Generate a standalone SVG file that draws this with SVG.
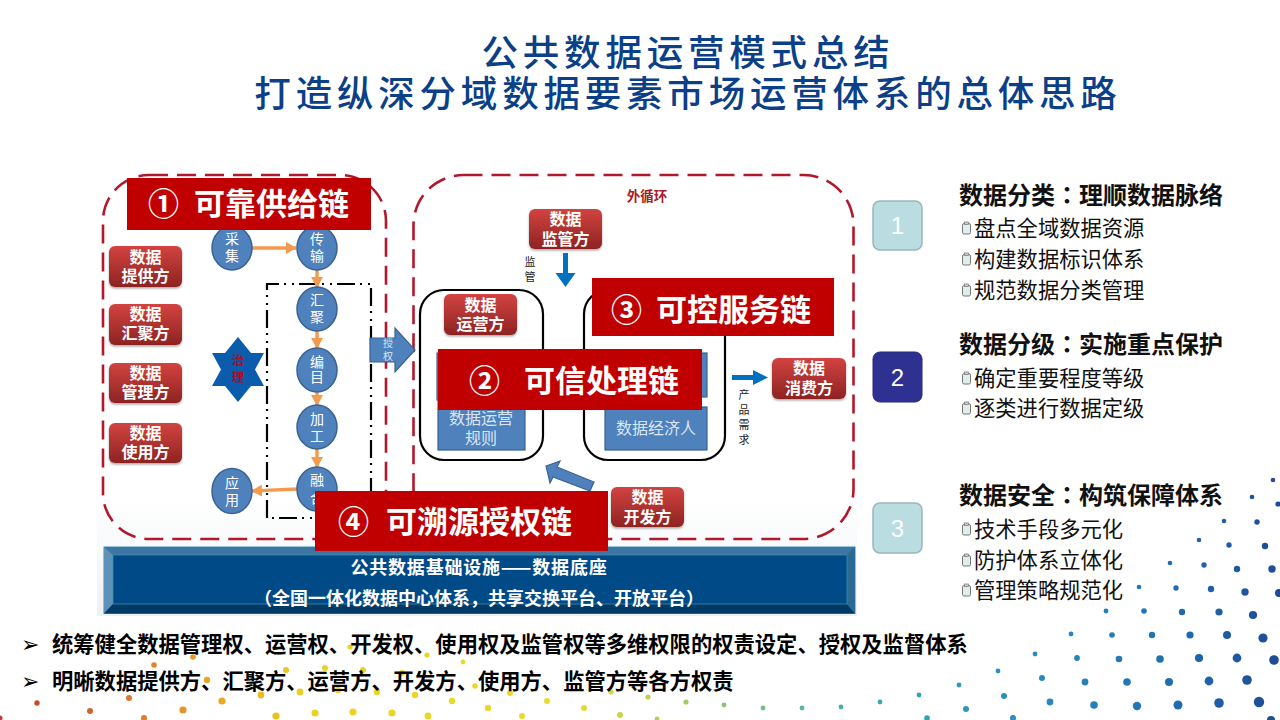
<svg xmlns="http://www.w3.org/2000/svg" xmlns:xlink="http://www.w3.org/1999/xlink" width="1280" height="720" viewBox="0 0 1280 720">
<style>
text{font-family:"Noto Sans CJK SC","Liberation Sans",sans-serif}
.title{font-size:36.5px;font-weight:500;fill:#0b3f88;letter-spacing:4.8px;text-anchor:middle}
.frame{fill:none;stroke:#b2182b;stroke-width:2.6;stroke-dasharray:19 9}
.party rect{fill:url(#redG);filter:url(#sh)}
.party text{font-size:16px;font-weight:700;fill:#fff;text-anchor:middle}
.step ellipse{fill:#4f81bd;stroke:#3a6390;stroke-width:1.5}
.step text{font-size:14px;fill:#fff;text-anchor:middle}
.box{fill:none;stroke:#000;stroke-width:2.2}
.blue{fill:#4f81bd;stroke:#3a6390;stroke-width:1.2}
.bt{font-size:16px;fill:#dbe6f3;text-anchor:middle}
.bar{fill:#c00000}
.bart{font-size:31px;font-weight:700;fill:#fff}
.small{font-size:11px;fill:#222;text-anchor:middle}
.orange{stroke:#f39a4f;stroke-width:3.4;fill:none;marker-end:url(#oa)}
.num{stroke:#9bb6ba;stroke-width:1.5}
.numt{font-family:"Liberation Sans",sans-serif;font-size:24px;fill:#fff;text-anchor:middle}
.h{font-size:24px;font-weight:700;fill:#111}
.c{font-family:"Noto Sans CJK TC",sans-serif}
.i{font-size:21.3px;fill:#111}
.b{font-size:21.3px;font-weight:700;fill:#000}
.ar{font-family:"DejaVu Sans",sans-serif;font-size:22px;fill:#000}
</style>
<defs>
<linearGradient id="redG" x1="0" y1="0" x2="0" y2="1"><stop offset="0" stop-color="#d24340"/><stop offset="1" stop-color="#8d2322"/></linearGradient>
<linearGradient id="pale" x1="0" y1="0" x2="0" y2="1"><stop offset="0" stop-color="#fff"/><stop offset="1" stop-color="#edf1f4"/></linearGradient>
<linearGradient id="dotG" gradientUnits="userSpaceOnUse" x1="0" y1="0" x2="1280" y2="0">
<stop offset="0" stop-color="#c23a30"/><stop offset=".08" stop-color="#d9662c"/><stop offset=".16" stop-color="#e6a227"/><stop offset=".24" stop-color="#ecd024"/><stop offset=".45" stop-color="#e8dc30"/><stop offset=".53" stop-color="#a9cb62"/><stop offset=".62" stop-color="#5fb89a"/><stop offset=".7" stop-color="#36a4b4"/><stop offset=".8" stop-color="#2a8cc0"/><stop offset=".9" stop-color="#1f74b4"/><stop offset="1" stop-color="#1f4a96"/></linearGradient>
<filter id="sh" x="-10%" y="-10%" width="120%" height="125%"><feDropShadow dx="0" dy="1.5" stdDeviation="1.2" flood-color="#000" flood-opacity=".35"/></filter>
<marker id="oa" markerUnits="userSpaceOnUse" markerWidth="11" markerHeight="12" refX="10" refY="6" orient="auto"><path d="M0 0L11 6L0 12z" fill="#f39a4f"/></marker>
<g id="clip"><rect x="0.5" y="1.5" width="8" height="10.5" rx="1.6" fill="#dfeee8" stroke="#777" stroke-width="1"/><rect x="2.5" y="0" width="4" height="2.6" fill="#ccc" stroke="#777" stroke-width=".7"/></g>
</defs>
<rect width="1280" height="720" fill="#fff"/>
<rect x="97" y="500" width="760" height="116" fill="url(#pale)"/>
<g id="dots" fill="url(#dotG)">
<circle cx="1273" cy="480" r="2.3"/><circle cx="1252" cy="497" r="2.3"/><circle cx="1278" cy="504" r="2.6"/><circle cx="1224" cy="521" r="2.3"/><circle cx="1257" cy="522" r="2.7"/><circle cx="1199" cy="540" r="2.3"/><circle cx="1229" cy="545" r="2.7"/><circle cx="1265" cy="546" r="3.2"/><circle cx="1170" cy="563" r="2.3"/><circle cx="1204" cy="565" r="2.7"/><circle cx="1237" cy="569" r="3.2"/><circle cx="1272" cy="569" r="3.7"/><circle cx="1139" cy="587" r="2.3"/><circle cx="1176" cy="588" r="2.7"/><circle cx="1211" cy="589" r="3.2"/><circle cx="1245" cy="592" r="3.7"/><circle cx="1279" cy="593" r="4"/><circle cx="1106" cy="611" r="2.4"/><circle cx="1144" cy="611" r="2.8"/><circle cx="1182" cy="612" r="3.2"/><circle cx="1219" cy="612" r="3.6"/><circle cx="1253" cy="615" r="4.1"/><circle cx="1071" cy="634" r="2.4"/><circle cx="1112" cy="635" r="2.8"/><circle cx="1152" cy="635" r="3.2"/><circle cx="1190" cy="635" r="3.6"/><circle cx="1227" cy="635" r="4"/><circle cx="1263" cy="638" r="4.6"/><circle cx="1035" cy="654" r="2.4"/><circle cx="1077" cy="658" r="2.9"/><circle cx="1119" cy="659" r="3.3"/><circle cx="1160" cy="659" r="3.8"/><circle cx="1199" cy="658" r="4.1"/><circle cx="1237" cy="658" r="4.4"/><circle cx="1274" cy="660" r="4.8"/><circle cx="998" cy="671" r="2.4"/><circle cx="1042" cy="678" r="3"/><circle cx="1085" cy="682" r="3.4"/><circle cx="1127" cy="682" r="3.8"/><circle cx="1169" cy="682" r="4"/><circle cx="1209" cy="681" r="4.4"/><circle cx="1247" cy="680" r="4.8"/><circle cx="959" cy="685" r="2.4"/><circle cx="1004" cy="696" r="3"/><circle cx="1050" cy="702" r="3.4"/><circle cx="1094" cy="705" r="3.8"/><circle cx="1137" cy="706" r="4.2"/><circle cx="1178" cy="705" r="4.5"/><circle cx="1219" cy="703" r="4.8"/><circle cx="1259" cy="702" r="5.2"/><circle cx="919" cy="695" r="2.4"/><circle cx="966" cy="709" r="3"/><circle cx="880" cy="702" r="2.4"/><circle cx="927" cy="718" r="2.8"/><circle cx="1013" cy="718" r="3"/><circle cx="1271" cy="720" r="4"/><circle cx="841" cy="707" r="2.4"/><circle cx="802" cy="708" r="2.4"/><circle cx="763" cy="708" r="2.4"/><circle cx="724" cy="705" r="2.4"/><circle cx="686" cy="702" r="2.6"/><circle cx="648" cy="697" r="2.6"/><circle cx="611" cy="692" r="2.6"/><circle cx="620" cy="715" r="3"/><circle cx="584" cy="708" r="3"/><circle cx="547" cy="701" r="3"/><circle cx="510" cy="693" r="3"/><circle cx="522" cy="716" r="3"/><circle cx="657" cy="719" r="2.4"/>
<circle cx="37" cy="703" r="2.7"/><circle cx="90" cy="711" r="3"/><circle cx="129" cy="698" r="3"/><circle cx="154" cy="665" r="2.8"/><circle cx="193" cy="657" r="2.8"/><circle cx="183" cy="710" r="3.6"/><circle cx="222" cy="701" r="3.6"/><circle cx="207" cy="680" r="3.2"/><circle cx="261" cy="695" r="3.4"/><circle cx="286" cy="670" r="3"/><circle cx="300" cy="692" r="3.4"/><circle cx="325" cy="668" r="3"/><circle cx="338" cy="690" r="3.2"/><circle cx="363" cy="670" r="3"/><circle cx="377" cy="692" r="3.2"/><circle cx="402" cy="673" r="3"/><circle cx="415" cy="695" r="3.2"/><circle cx="427" cy="655" r="2.6"/><circle cx="350" cy="647" r="2.6"/><circle cx="463" cy="662" r="2.4"/><circle cx="452" cy="701" r="3.2"/><circle cx="475" cy="686" r="2.8"/><circle cx="488" cy="708" r="3.2"/><circle cx="276" cy="716" r="3.6"/><circle cx="315" cy="713" r="3.6"/><circle cx="353" cy="712" r="3.6"/><circle cx="392" cy="713" r="3.6"/><circle cx="428" cy="716" r="3.4"/><circle cx="144" cy="718" r="3"/><circle cx="0" cy="718" r="2.5"/>
</g>
<g id="title"><text class="title"><tspan x="688" y="66">公共数据运营模式总结</tspan><tspan x="688" y="107">打造纵深分域数据要素市场运营体系的总体思路</tspan></text></g>
<g id="frames">
<rect class="frame" x="103" y="175" width="283" height="364" rx="46"/>
<rect class="frame" x="413.500" y="175" width="440" height="364" rx="50"/>
<rect class="box" x="420" y="290" width="123" height="170" rx="24"/>
<rect class="box" x="584" y="290" width="141" height="170" rx="24"/>
<path d="M267 518V284H371V518H267" fill="none" stroke="#000" stroke-width="2.2" stroke-dasharray="18 5 2 6 2 5"/>
</g>
<g id="connectors">
<path class="orange" d="M252 248H296"/><path class="orange" d="M317 270V287"/><path class="orange" d="M317 331V348"/><path class="orange" d="M317 392V405"/><path class="orange" d="M317 449V467"/><path class="orange" d="M297 489L252 491"/>
<path d="M563 253h5v20h7.500l-10 14-10-14h7.500z" fill="#0070c0"/>
<path d="M732 375h21v-5l15 7.500-15 7.500v-5h-21z" fill="#0070c0"/>
<path d="M546 466L560 461L557 467L594 482L590 491L553 477L550 483z" class="blue"/>
<path d="M370 338h25v-10l20 22-20 22v-10h-25z" class="blue"/>
</g>
<g id="labels">
<text x="647" y="201" font-size="13.500" font-weight="700" fill="#a61c28" text-anchor="middle">外循环</text>
<text class="small"><tspan x="530" y="266">监</tspan><tspan x="530" y="281">管</tspan></text>
<text class="small"><tspan x="744" y="399">产</tspan><tspan x="744" y="414">品</tspan><tspan x="744" y="429">需</tspan><tspan x="744" y="444">求</tspan></text>
<text font-size="10" fill="#dbe6f3" text-anchor="middle"><tspan x="388" y="347">授</tspan><tspan x="388" y="360">权</tspan></text>
</g>
<g id="p1" class="party"><rect x="109" y="246" width="73" height="41" rx="6"/><text><tspan x="145.500" y="263">数据</tspan><tspan x="145.500" y="282">提供方</tspan></text></g>
<g id="p2" class="party"><rect x="109" y="304" width="73" height="41" rx="6"/><text><tspan x="145.500" y="320">数据</tspan><tspan x="145.500" y="339">汇聚方</tspan></text></g>
<g id="p3" class="party"><rect x="109" y="363" width="73" height="40" rx="6"/><text><tspan x="145.500" y="379">数据</tspan><tspan x="145.500" y="398">管理方</tspan></text></g>
<g id="p4" class="party"><rect x="109" y="423" width="73" height="40" rx="6"/><text><tspan x="145.500" y="439">数据</tspan><tspan x="145.500" y="458">使用方</tspan></text></g>
<g id="p5" class="party"><rect x="529" y="209" width="73" height="40" rx="6"/><text><tspan x="565.500" y="225">数据</tspan><tspan x="565.500" y="245">监管方</tspan></text></g>
<g id="p6" class="party"><rect x="444" y="294" width="73" height="41" rx="6"/><text><tspan x="480.500" y="311">数据</tspan><tspan x="480.500" y="330">运营方</tspan></text></g>
<g id="p7" class="party"><rect x="772" y="358" width="74" height="41" rx="6"/><text><tspan x="809" y="374">数据</tspan><tspan x="809" y="394">消费方</tspan></text></g>
<g id="p8" class="party"><rect x="611" y="487" width="73" height="40" rx="6"/><text><tspan x="647.500" y="503">数据</tspan><tspan x="647.500" y="523">开发方</tspan></text></g>
<g id="s1" class="step"><ellipse cx="232" cy="248" rx="20" ry="22"/><text><tspan x="232" y="244">采</tspan><tspan x="232" y="261">集</tspan></text></g>
<g id="s2" class="step"><ellipse cx="317" cy="248" rx="20" ry="22"/><text><tspan x="317" y="244">传</tspan><tspan x="317" y="261">输</tspan></text></g>
<g id="s3" class="step"><ellipse cx="317" cy="309" rx="20" ry="22"/><text><tspan x="317" y="305">汇</tspan><tspan x="317" y="322">聚</tspan></text></g>
<g id="s4" class="step"><ellipse cx="317" cy="370" rx="20" ry="22"/><text><tspan x="317" y="367">编</tspan><tspan x="317" y="382">目</tspan></text></g>
<g id="s5" class="step"><ellipse cx="317" cy="427" rx="20" ry="22"/><text><tspan x="317" y="424">加</tspan><tspan x="317" y="441">工</tspan></text></g>
<g id="s6" class="step"><ellipse cx="317" cy="489" rx="20" ry="22"/><text><tspan x="317" y="485">融</tspan><tspan x="317" y="503">合</tspan></text></g>
<g id="s7" class="step"><ellipse cx="232" cy="491" rx="20" ry="22.500"/><text><tspan x="232" y="488">应</tspan><tspan x="232" y="505">用</tspan></text></g>
<g id="star"><polygon points="238,337 251,353 264,353 255,369.500 264,386 251,386 238,402 225,386 212,386 221,369.500 212,353 225,353" fill="#0b5cad"/><text font-size="12.500" font-weight="700" fill="#a01030" text-anchor="middle"><tspan x="238" y="365">治</tspan><tspan x="238" y="382">理</tspan></text></g>
<g id="inner1"><rect class="blue" x="437" y="353" width="60" height="47"/><rect class="blue" x="438" y="400" width="87" height="50"/><text class="bt"><tspan x="481" y="424">数据运营</tspan><tspan x="481" y="444">规则</tspan></text></g>
<g id="inner2"><rect class="blue" x="640" y="353" width="67" height="44"/><rect class="blue" x="605" y="407" width="102" height="43"/><text class="bt" x="656" y="434">数据经济人</text></g>
<g id="base">
<rect x="104" y="547" width="751" height="66.500" fill="#1f5f92" stroke="#3c8db5"/>
<path d="M104 547H855L847 555H113z" fill="#3d76a3"/><path d="M104 547L113 555V604L104 613.500z" fill="#5f92b8"/><path d="M104 613.500L113 604H847L855 613.500z" fill="#023a66"/><path d="M855 547L847 555V604L855 613.500z" fill="#2c6a96"/>
<rect x="113" y="555" width="734" height="49" fill="#004a87" stroke="#3c8db5" stroke-width=".8"/>
<text x="479" y="574" font-size="18" font-weight="700" fill="#fff" text-anchor="middle" letter-spacing=".8">公共数据基础设施——数据底座</text>
<text x="479" y="605" font-size="18" font-weight="700" fill="#fff" text-anchor="middle">（全国一体化数据中心体系，共享交换平台、开放平台）</text>
</g>
<g id="bar1"><rect class="bar" x="127" y="178" width="244" height="52"/><text class="bart" x="148" y="215">①</text><text class="bart" x="194" y="215">可靠供给链</text></g>
<g id="bar2"><rect class="bar" x="438" y="349" width="264" height="61"/><text class="bart" x="469" y="392">②</text><text class="bart" x="524" y="392">可信处理链</text></g>
<g id="bar3"><rect class="bar" x="592" y="278" width="242" height="58"/><text class="bart" x="611" y="321">③</text><text class="bart" x="656" y="321">可控服务链</text></g>
<g id="bar4"><rect class="bar" x="315" y="491" width="293" height="60"/><text class="bart" x="338" y="533">④</text><text class="bart" x="386" y="533">可溯源授权链</text></g>
<g id="n1"><rect class="num" x="873" y="201" width="49" height="49" rx="7" fill="#b9dde0"/><text class="numt" x="897.500" y="234">1</text></g>
<g id="n2"><rect x="873" y="352" width="49" height="50" rx="7" fill="#2e3192" stroke="#27287a"/><text class="numt" x="897.500" y="386">2</text></g>
<g id="n3"><rect class="num" x="873" y="503" width="49" height="50" rx="7" fill="#b9dde0"/><text class="numt" x="897.500" y="537">3</text></g>
<g id="list1"><text class="h" x="959" y="204">数据分类<tspan class="c">：</tspan>理顺数据脉络</text>
<use xlink:href="#clip" href="#clip" x="962" y="222"/><text class="i" x="974" y="236">盘点全域数据资源</text>
<use xlink:href="#clip" href="#clip" x="962" y="253"/><text class="i" x="974" y="267">构建数据标识体系</text>
<use xlink:href="#clip" href="#clip" x="962" y="284"/><text class="i" x="974" y="298">规范数据分类管理</text></g>
<g id="list2"><text class="h" x="959" y="353">数据分级<tspan class="c">：</tspan>实施重点保护</text>
<use xlink:href="#clip" href="#clip" x="962" y="372"/><text class="i" x="974" y="386">确定重要程度等级</text>
<use xlink:href="#clip" href="#clip" x="962" y="402"/><text class="i" x="974" y="416">逐类进行数据定级</text></g>
<g id="list3"><text class="h" x="959" y="504">数据安全<tspan class="c">：</tspan>构筑保障体系</text>
<use xlink:href="#clip" href="#clip" x="962" y="523"/><text class="i" x="974" y="537">技术手段多元化</text>
<use xlink:href="#clip" href="#clip" x="962" y="554"/><text class="i" x="974" y="568">防护体系立体化</text>
<use xlink:href="#clip" href="#clip" x="962" y="584"/><text class="i" x="974" y="598">管理策略规范化</text></g>
<g id="notes"><text class="ar" x="21" y="652">➢</text><text class="b" x="52" y="652">统筹健全数据管理权、运营权、开发权、使用权及监管权等多维权限的权责设定、授权及监督体系</text>
<text class="ar" x="21" y="689">➢</text><text class="b" x="52" y="689">明晰数据提供方、汇聚方、运营方、开发方、使用方、监管方等各方权责</text></g>
</svg>
